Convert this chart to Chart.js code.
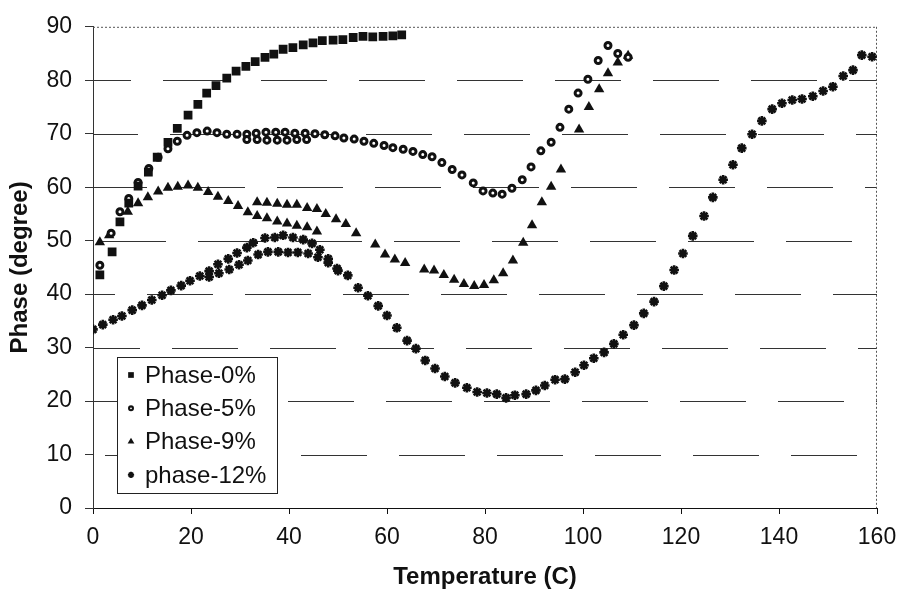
<!DOCTYPE html>
<html>
<head>
<meta charset="utf-8">
<title>Phase vs Temperature</title>
<script src="https://cdn.jsdelivr.net/npm/chart.js@4.4.1/dist/chart.umd.min.js"></script>
<style>
  html, body { margin: 0; padding: 0; background: #fff; }
  #wrap { width: 902px; height: 592px; }
</style>
</head>
<body>
<div id="wrap"><canvas id="phaseChart" width="902" height="592"></canvas></div>
<script>
// axis ranges
const tempTicks = [0, 20, 40, 60, 80, 100, 120, 140, 160];
const phaseTicks = [0, 10, 20, 30, 40, 50, 60, 70, 80, 90];

const seriesNames = ['Phase-0%', 'Phase-5%', 'Phase-9%', 'phase-12%'];

// 0% sample
const temp0 = [1.4, 3.9, 5.5, 7.3, 9.2, 11.3, 13.1, 15.3, 17.2, 19.4, 21.4, 23.2, 25.1, 27.3, 29.2, 31.2,
  33.1, 35.1, 36.9, 38.8, 40.8, 42.9, 44.9, 46.8, 49.0, 51.0, 53.1, 55.1, 57.1, 59.2, 61.2, 63.0];
const phase0 = [43.6, 47.9, 53.5, 57.0, 60.2, 62.8, 65.6, 68.4, 71.0, 73.5, 75.5, 77.6, 79.0, 80.4, 81.7, 82.6,
  83.5, 84.3, 84.9, 85.8, 86.1, 86.6, 87.0, 87.4, 87.5, 87.6, 88.0, 88.2, 88.1, 88.2, 88.3, 88.5];

// 5% sample (second short run around 30-45 C at the end)
const temp5 = [1.4, 3.7, 5.5, 7.3, 9.2, 11.4, 13.3, 15.3, 17.2, 19.2, 21.2, 23.3, 25.3, 27.3, 29.4, 31.4,
  33.3, 35.3, 37.3, 39.2, 41.2, 43.3, 45.3, 47.3, 49.4, 51.2, 53.3, 55.3, 57.3, 59.4, 61.2, 63.3,
  65.3, 67.3, 69.2, 71.2, 73.3, 75.3, 77.6, 79.6, 81.6, 83.5, 85.5, 87.6, 89.4, 91.4, 93.5, 95.3,
  97.1, 99.0, 101.0, 103.1, 105.1, 107.1, 109.2,
  31.4, 33.5, 35.5, 37.6, 39.6, 41.6, 43.6];
const phase5 = [45.4, 51.4, 55.4, 57.9, 60.9, 63.5, 65.6, 67.2, 68.6, 69.7, 70.2, 70.5, 70.2, 69.9, 69.9, 69.9,
  70.1, 70.3, 70.3, 70.3, 70.1, 70.1, 70.0, 69.8, 69.6, 69.2, 69.0, 68.6, 68.2, 67.8, 67.4, 67.1,
  66.7, 66.1, 65.7, 64.6, 63.3, 62.3, 60.8, 59.3, 58.9, 58.7, 59.8, 61.4, 63.8, 66.8, 68.4, 71.2,
  74.6, 77.6, 80.2, 83.7, 86.5, 85.0, 84.3,
  68.9, 68.9, 68.8, 68.8, 68.8, 68.9, 68.9];

// 9% sample
const temp9 = [1.4, 3.3, 7.1, 9.2, 11.2, 13.3, 15.3, 17.3, 19.4, 21.4, 23.5, 25.5, 27.6, 29.6, 31.6,
  33.5, 35.5, 37.6, 39.6, 41.6, 43.7, 45.7,
  33.5, 35.5, 37.6, 39.6, 41.6, 43.7, 45.7, 47.5, 49.6, 51.6, 53.7,
  57.6, 59.6, 61.6, 63.7, 67.6, 69.6, 71.6, 73.7, 75.7, 77.8, 79.8, 81.8, 83.7, 85.7, 87.8, 89.6,
  91.6, 93.5, 95.5, 99.2, 101.2, 103.3, 105.1, 107.1, 109.2];
const phase9 = [49.7, 51.0, 55.4, 57.0, 58.1, 59.2, 59.9, 60.1, 60.3, 59.9, 59.1, 58.2, 57.4, 56.5, 55.3,
  54.6, 54.2, 53.6, 53.2, 52.8, 52.5, 51.7,
  57.2, 57.1, 56.9, 56.7, 56.7, 56.1, 55.9, 55.0, 54.0, 53.1, 51.4,
  49.3, 47.4, 46.5, 45.8, 44.6, 44.4, 43.6, 42.7, 41.9, 41.5, 41.7, 42.6, 43.9, 46.3, 49.6, 52.9,
  57.2, 60.1, 63.3, 70.8, 75.0, 78.3, 81.3, 83.3, 84.6];

// 12% sample: first run up to ~50 C, then the long run to 160 C
const temp12 = [0, 2, 4.1, 5.9, 8, 10, 12, 14.1, 15.9, 18, 19.8, 21.8, 23.7, 25.5, 27.6, 29.4, 31.4, 32.7,
  35.1, 37.1, 38.8, 40.8, 42.9, 44.7, 46.3, 48.0, 49.8,
  23.7, 25.7, 27.8, 29.8, 31.6, 33.7, 35.7, 37.8, 39.8, 41.8, 43.9, 45.9, 48.0, 50.0, 52.0, 54.1,
  56.1, 58.2, 60.0, 62.0, 64.1, 65.9, 67.8, 69.8, 71.8, 73.9, 76.3, 78.4, 80.4, 82.4, 84.3, 86.1,
  88.4, 90.4, 92.2, 94.3, 96.3, 98.4, 100.2, 102.2, 104.3, 106.3, 108.2, 110.4, 112.4, 114.5, 116.5, 118.6,
  120.4, 122.4, 124.7, 126.5, 128.6, 130.6, 132.4, 134.5, 136.5, 138.6, 140.6, 142.7, 144.7, 146.9, 149.0, 151.0,
  153.1, 155.1, 156.9, 159.0];
const phase12 = [33.4, 34.3, 35.2, 35.9, 37.0, 37.9, 38.9, 39.8, 40.7, 41.6, 42.5, 43.4, 44.3, 45.6, 46.6, 47.7, 48.7, 49.6,
  50.5, 50.6, 51.0, 50.6, 50.2, 49.5, 48.3, 46.6, 44.8,
  43.2, 43.9, 44.6, 45.5, 46.3, 47.4, 47.9, 47.9, 47.8, 47.8, 47.6, 46.9, 45.9, 44.4, 43.5, 41.2,
  39.7, 37.8, 36.0, 33.7, 31.3, 29.8, 27.6, 26.1, 24.6, 23.4, 22.5, 21.7, 21.5, 21.3, 20.6, 21.1,
  21.3, 22.0, 22.9, 24.0, 24.1, 25.4, 26.7, 28.0, 29.1, 30.7, 32.4, 34.2, 36.4, 38.6, 41.5, 44.5,
  47.6, 50.9, 54.6, 58.1, 61.4, 64.2, 67.3, 69.9, 72.4, 74.6, 75.7, 76.3, 76.5, 77.0, 78.0, 78.8,
  80.8, 81.9, 84.7, 84.4];

function pairs(xs, ys) {
  return xs.map((x, i) => ({ x: x, y: ys[i] }));
}

const FONT = "'Liberation Sans', Arial, sans-serif";
const INK = '#111';
const GRID = '#333';

// dash phase of each horizontal grid line (10..80), so the dashes don't stack up
const gridDash = [66, 32];
const gridPhase = [86, 1, 19, 44, 91, 12, 21, 28];

// marker look for each series (also used by the legend)
const markers = [
  { pointStyle: 'rect', radius: 6.2, borderWidth: 0, fill: INK },
  { pointStyle: 'circle', radius: 3.0, borderWidth: 3.0, fill: '#fff' },
  { pointStyle: 'triangle', radius: 6.0, borderWidth: 0, fill: INK },
  { pointStyle: 'star', radius: 4.8, borderWidth: 2.6, fill: INK }
];

const seriesData = [pairs(temp0, phase0), pairs(temp5, phase5), pairs(temp9, phase9), pairs(temp12, phase12)];

const datasets = seriesData.map((d, i) => ({
  label: seriesNames[i],
  data: d,
  showLine: false,
  pointStyle: markers[i].pointStyle,
  pointRadius: markers[i].radius,
  pointHoverRadius: markers[i].radius,
  pointBorderWidth: markers[i].borderWidth,
  pointBackgroundColor: markers[i].fill,
  pointBorderColor: INK
}));

// horizontal dashed grid lines, plus dotted top and right edges of the plot
const plotFrame = {
  id: 'plotFrame',
  beforeDatasetsDraw(chart) {
    const { ctx, chartArea: a } = chart;
    const yScale = chart.scales.y;
    ctx.save();
    ctx.strokeStyle = GRID;
    ctx.lineWidth = 1;
    ctx.setLineDash(gridDash);
    yScale.ticks.forEach((t, i) => {
      if (i === 0 || i === yScale.ticks.length - 1) return;
      const y = Math.round(yScale.getPixelForValue(t.value)) + 0.5;
      ctx.lineDashOffset = gridPhase[(i - 1) % gridPhase.length];
      ctx.beginPath();
      ctx.moveTo(a.left, y);
      ctx.lineTo(a.right, y);
      ctx.stroke();
    });
    ctx.strokeStyle = '#555';
    ctx.setLineDash([2, 2]);
    ctx.lineDashOffset = 0;
    ctx.beginPath();
    ctx.moveTo(a.left, a.top + 0.5);
    ctx.lineTo(a.right, a.top + 0.5);
    ctx.moveTo(a.right - 0.5, a.top);
    ctx.lineTo(a.right - 0.5, a.bottom);
    ctx.stroke();
    ctx.restore();
  }
};

// boxed legend sitting inside the plot, lower left
const insetLegend = {
  id: 'insetLegend',
  afterDraw(chart) {
    const { ctx, chartArea: a } = chart;
    const boxW = 160, boxH = 136;
    const left = a.left + 24;
    const top = a.bottom - 15 - boxH;
    const rowH = 33.3;
    ctx.save();
    ctx.fillStyle = '#fff';
    ctx.fillRect(left, top, boxW, boxH);
    ctx.strokeStyle = '#222';
    ctx.lineWidth = 1;
    ctx.strokeRect(left + 0.5, top + 0.5, boxW, boxH);
    ctx.font = '24px ' + FONT;
    ctx.textBaseline = 'middle';
    chart.data.datasets.forEach((ds, i) => {
      const cy = top + 18 + i * rowH;
      const m = markers[i];
      ctx.fillStyle = m.fill;
      ctx.strokeStyle = INK;
      ctx.lineWidth = m.borderWidth ? m.borderWidth * 0.7 : 0;
      Chart.helpers.drawPoint(ctx, {
        pointStyle: m.pointStyle,
        radius: m.radius * 0.65,
        rotation: 0,
        borderWidth: m.borderWidth * 0.7
      }, left + 14, cy);
      ctx.fillStyle = INK;
      ctx.fillText(ds.label, left + 28, cy + 1);
    });
    ctx.restore();
  }
};

new Chart(document.getElementById('phaseChart'), {
  type: 'scatter',
  data: { datasets: datasets },
  options: {
    responsive: false,
    animation: false,
    devicePixelRatio: 1,
    layout: { padding: { top: 22, right: 25, left: 0, bottom: 0 } },
    plugins: {
      legend: { display: false },
      tooltip: { enabled: false }
    },
    scales: {
      x: {
        type: 'linear',
        min: tempTicks[0],
        max: tempTicks[tempTicks.length - 1],
        ticks: {
          stepSize: tempTicks[1] - tempTicks[0],
          color: INK,
          padding: 5,
          font: { family: FONT, size: 23, lineHeight: 1.6 }
        },
        grid: { drawOnChartArea: false, drawTicks: true, tickLength: 6, color: INK },
        border: { color: INK, width: 1 },
        title: {
          display: true,
          text: 'Temperature (C)',
          color: INK,
          font: { family: FONT, size: 24, weight: 'bold' },
          padding: { top: 0, bottom: 0 }
        },
        afterFit(scale) { scale.height = 84; }
      },
      y: {
        type: 'linear',
        min: phaseTicks[0],
        max: phaseTicks[phaseTicks.length - 1],
        ticks: {
          stepSize: phaseTicks[1] - phaseTicks[0],
          color: INK,
          padding: 13,
          font: { family: FONT, size: 23 }
        },
        grid: {
          drawOnChartArea: false,
          color: GRID,
          tickColor: GRID,
          tickLength: 8,
          lineWidth: 1
        },
        border: { color: GRID, width: 1 },
        title: {
          display: true,
          text: 'Phase (degree)',
          color: INK,
          font: { family: FONT, size: 24, weight: 'bold' },
          padding: { top: 6, bottom: 0 }
        },
        afterFit(scale) { scale.width = 93; }
      }
    }
  },
  plugins: [plotFrame, insetLegend]
});
</script>
</body>
</html>
